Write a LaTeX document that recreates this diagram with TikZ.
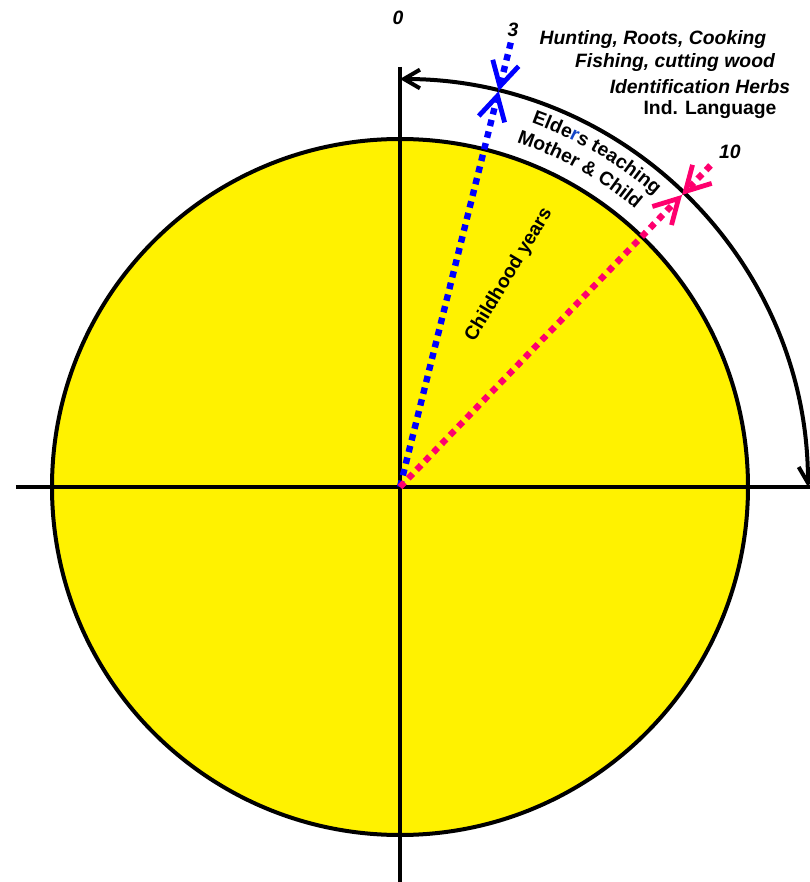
\documentclass[tikz,border=0pt]{standalone}
\usepackage{fontspec}
\setmainfont{Liberation Sans}
\usetikzlibrary{arrows.meta, decorations.text}

\definecolor{sunyellow}{RGB}{255,242,0}
\definecolor{markblue}{RGB}{0,0,255}
\definecolor{markpink}{RGB}{255,0,110}
\definecolor{letterblue}{RGB}{20,70,200}
\newcommand{\lblfont}{\fontsize{14.5}{17}\selectfont\bfseries}

\begin{document}
\begin{tikzpicture}[
    x=0.75pt, y=0.75pt,
    axis/.style={line width=3pt},
    disc/.style={draw=black, line width=3pt, fill=sunyellow},
    span/.style={line width=3pt,
                 {Straight Barb[length=12pt,width=14pt,line width=3pt]}-{Straight Barb[length=12pt,width=14pt,line width=3pt]}},
    marker/.style={line width=4.8pt, dash pattern=on 4.8pt off 4.2pt,
                   -{Straight Barb[length=18pt,width=20pt,line width=3.6pt]}},
    lbl/.style={font=\lblfont, inner sep=1pt},
    ilbl/.style={lbl, font=\lblfont\itshape}
]
  \useasboundingbox (-400,-395) rectangle (410,487);

  % Disc and axes
  \coordinate (O) at (0,0);
  \filldraw[disc] (O) circle[radius=348];
  \coordinate (W) at (-384,0);
  \coordinate (E) at (410,0);
  \coordinate (N) at (0,420);
  \coordinate (S) at (0,-395);
  \draw[axis] (W) -- (E);
  \draw[axis] (N) -- (S);

  % Outer span 0 -> quarter
  \coordinate (spanstart) at (90:408);
  \draw[span] (spanstart) arc[start angle=90, end angle=0, radius=408];

  % Age markers
  \coordinate (threecut) at (76:408);
  \coordinate (threeend) at (76:458);
  \coordinate (tencut) at (46:406);
  \coordinate (tenend) at (46:447);
  \draw[marker, markblue] (O) -- (threecut);
  \draw[marker, markblue] (threeend) -- (threecut);
  \draw[marker, markpink] (O) -- (tencut);
  \draw[marker, markpink] (tenend) -- (tencut);

  % Ages
  \node[ilbl] (zero) at (-2,469) {0};
  \node[ilbl] (three) at (113,457) {3};
  \node[ilbl] (ten) at (330,335) {10};

  % Activities
  \node[ilbl] (hunt) at (253,447) {Hunting, Roots, Cooking};
  \node[ilbl] (fish) at (275,424) {Fishing, cutting wood};
  \node[ilbl] (herb) at (300,400) {Identification Herbs};
  \node[lbl] (lang) at (310,377) {Ind. Language};

  % Along the rim
  \path[decorate, decoration={text along path, text align=center,
        text={|\lblfont|Elde|\lblfont\color{letterblue}|r|\lblfont|s teaching}}]
    (80:387) arc[start angle=80, end angle=39, radius=387];
  \path[decorate, decoration={text along path, text align=center,
        text={|\lblfont|Mother {\&} Child}}]
    (82:364) arc[start angle=82, end angle=39, radius=364];

  \node[lbl, rotate=59] (child) at (109,212) {Childhood years};
\end{tikzpicture}
\end{document}
